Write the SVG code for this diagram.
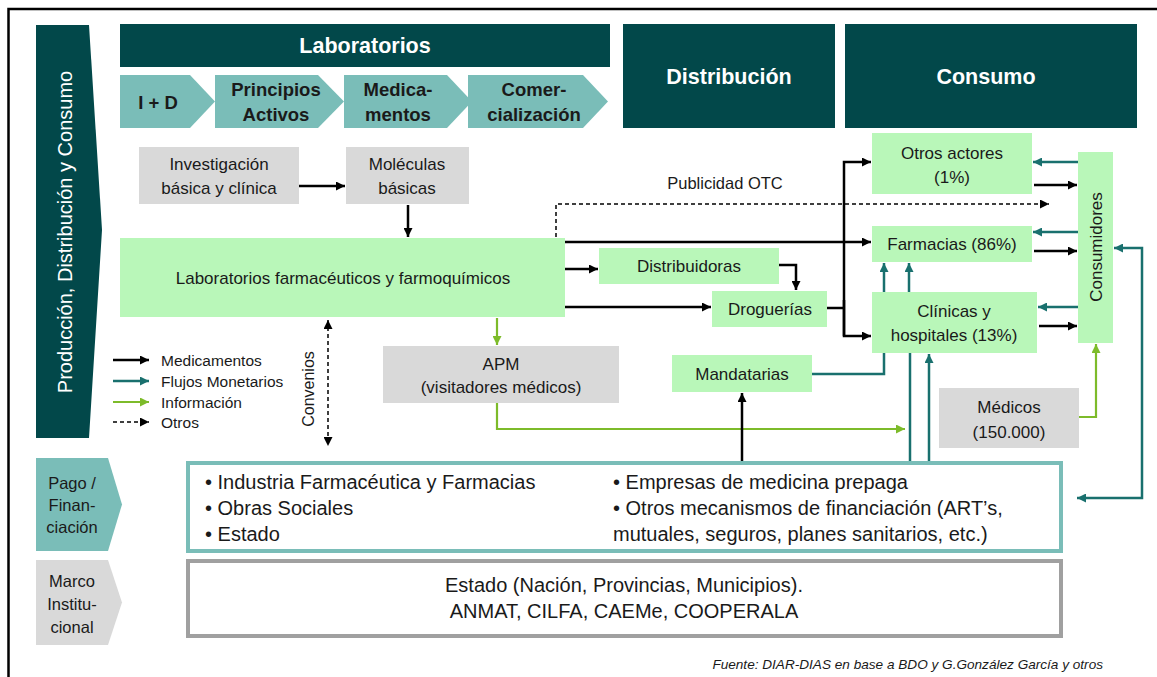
<svg xmlns="http://www.w3.org/2000/svg" width="1157" height="677" viewBox="0 0 1157 677">
<style>
text{font-family:"Liberation Sans",Arial,sans-serif;fill:#1a1a1a;dominant-baseline:central}
.hd{fill:#02484a}
.hdt{fill:#fff;font-weight:bold;font-size:21.5px;text-anchor:middle}
.chev{fill:#7abdb8}
.cht{font-weight:bold;font-size:18.5px;text-anchor:middle}
.gb{fill:#b9f7b9}
.gr{fill:#d9d9d9}
.bt{font-size:17px;text-anchor:middle}
.lg{font-size:15.5px}
.pt{font-size:20px}
.sl{font-size:16.5px;text-anchor:middle}
.blk{fill:none;stroke:#000;stroke-width:2.5}
.tl{fill:none;stroke:#19706e;stroke-width:2.5}
.gn{fill:none;stroke:#7dbb2a;stroke-width:2.2}
.ds{fill:none;stroke:#000;stroke-width:1.5;stroke-dasharray:4 3}
</style>
<defs>
<marker id="ab" viewBox="0 0 10 10" refX="10" refY="5" markerWidth="9" markerHeight="9" markerUnits="userSpaceOnUse" orient="auto-start-reverse"><path d="M0,0 L10,5 L0,10 z" fill="#000"/></marker>
<marker id="at" viewBox="0 0 10 10" refX="10" refY="5" markerWidth="9" markerHeight="9" markerUnits="userSpaceOnUse" orient="auto-start-reverse"><path d="M0,0 L10,5 L0,10 z" fill="#19706e"/></marker>
<marker id="ag" viewBox="0 0 10 10" refX="10" refY="5" markerWidth="9" markerHeight="9" markerUnits="userSpaceOnUse" orient="auto-start-reverse"><path d="M0,0 L10,5 L0,10 z" fill="#7dbb2a"/></marker>
</defs>
<rect width="1157" height="677" fill="#fff"/>
<rect x="8.5" y="9" width="1160" height="680" fill="none" stroke="#000" stroke-width="2.5"/>

<g id="banner">
<polygon class="hd" points="36,25 89,25 102,230 89,438 36,438"/>
<text transform="translate(65,232) rotate(-90)" text-anchor="middle" font-size="20" style="fill:#fff">Producción, Distribución y Consumo</text>
</g>

<g id="laboratorios-header">
<rect class="hd" x="120" y="24" width="490" height="43"/>
<text class="hdt" x="365" y="46">Laboratorios</text>
</g>
<g id="chev-id">
<polygon class="chev" points="120,75 190,75 215,101.5 190,128 120,128"/>
<text class="cht" x="158" y="102">I + D</text>
</g>
<g id="chev-principios">
<polygon class="chev" points="215,75 318,75 344,101.5 318,128 215,128"/>
<text class="cht" x="276" y="89">Principios</text>
<text class="cht" x="276" y="114">Activos</text>
</g>
<g id="chev-medicamentos">
<polygon class="chev" points="344,75 447,75 472,101.5 447,128 344,128"/>
<text class="cht" x="398" y="89">Medica-</text>
<text class="cht" x="398" y="114">mentos</text>
</g>
<g id="chev-comercializacion">
<polygon class="chev" points="468,75 583,75 608,101.5 583,128 468,128"/>
<text class="cht" x="534" y="89">Comer-</text>
<text class="cht" x="534" y="114">cialización</text>
</g>
<g id="distribucion-header">
<rect class="hd" x="623" y="24" width="212" height="104"/>
<text class="hdt" x="729" y="77">Distribución</text>
</g>
<g id="consumo-header">
<rect class="hd" x="845" y="24" width="292" height="104"/>
<text class="hdt" x="986" y="77">Consumo</text>
</g>

<g id="investigacion">
<rect class="gr" x="139" y="147" width="160" height="57"/>
<text class="bt" x="219" y="164">Investigación</text>
<text class="bt" x="219" y="188">básica y clínica</text>
</g>
<g id="moleculas">
<rect class="gr" x="346" y="147" width="123" height="57"/>
<text class="bt" x="407" y="164">Moléculas</text>
<text class="bt" x="407" y="188">básicas</text>
</g>
<g id="laboratorios">
<rect class="gb" x="120" y="238" width="445" height="79"/>
<text class="bt" x="343" y="278">Laboratorios farmacéuticos y farmoquímicos</text>
</g>
<g id="distribuidoras">
<rect class="gb" x="599" y="248" width="180" height="36"/>
<text class="bt" x="689" y="266">Distribuidoras</text>
</g>
<g id="droguerias">
<rect class="gb" x="712" y="291" width="115" height="36"/>
<text class="bt" x="770" y="309">Droguerías</text>
</g>
<g id="otros-actores">
<rect class="gb" x="872" y="133" width="160" height="61"/>
<text class="bt" x="952" y="153">Otros actores</text>
<text class="bt" x="952" y="177">(1%)</text>
</g>
<g id="farmacias">
<rect class="gb" x="872" y="226" width="160" height="36"/>
<text class="bt" x="952" y="244">Farmacias (86%)</text>
</g>
<g id="clinicas">
<rect class="gb" x="872" y="292" width="165" height="61"/>
<text class="bt" x="954" y="311">Clínicas y</text>
<text class="bt" x="954" y="335">hospitales (13%)</text>
</g>
<g id="consumidores">
<rect class="gb" x="1078" y="152" width="35" height="191"/>
<text class="bt" transform="translate(1096,247) rotate(-90)">Consumidores</text>
</g>
<g id="apm">
<rect class="gr" x="383" y="346" width="236" height="57"/>
<text class="bt" x="501" y="364">APM</text>
<text class="bt" x="501" y="387">(visitadores médicos)</text>
</g>
<g id="mandatarias">
<rect class="gb" x="672" y="355" width="140" height="37"/>
<text class="bt" x="742" y="374">Mandatarias</text>
</g>
<g id="medicos">
<rect class="gr" x="939" y="388" width="140" height="60"/>
<text class="bt" x="1009" y="407">Médicos</text>
<text class="bt" x="1009" y="432">(150.000)</text>
</g>

<g id="legend">
<path class="blk" d="M113,360 H149" marker-end="url(#ab)"/>
<text class="lg" x="161" y="360">Medicamentos</text>
<path class="tl" d="M113,381 H149" marker-end="url(#at)"/>
<text class="lg" x="161" y="381">Flujos Monetarios</text>
<path class="gn" d="M113,402 H149" marker-end="url(#ag)"/>
<text class="lg" x="161" y="402">Información</text>
<path class="ds" d="M113,422 H149" marker-end="url(#ab)"/>
<text class="lg" x="161" y="422">Otros</text>
</g>

<g id="connectors">
<path class="blk" d="M299,186 H345" marker-end="url(#ab)"/>
<path class="blk" d="M408,205 V237" marker-end="url(#ab)"/>
<path class="blk" d="M565,242 H871" marker-end="url(#ab)"/>
<path class="blk" d="M565,269 H598" marker-end="url(#ab)"/>
<path class="blk" d="M779,265 H796 V290" marker-end="url(#ab)"/>
<path class="blk" d="M565,307 H711" marker-end="url(#ab)"/>
<path class="blk" d="M827,308 H844"/>
<path class="blk" d="M844,336 V162 H871" marker-end="url(#ab)"/>
<path class="blk" d="M844,300 V336 H871" marker-end="url(#ab)"/>
<path class="ds" d="M556,237 V204 H1049" marker-end="url(#ab)"/>
<text x="725" y="183" font-size="16.5" text-anchor="middle">Publicidad OTC</text>
<path class="ds" d="M328,320 V446" marker-start="url(#ab)" marker-end="url(#ab)"/>
<text transform="translate(308,389) rotate(-90)" font-size="16" text-anchor="middle">Convenios</text>
<path class="gn" d="M497,318 V345" marker-end="url(#ag)"/>
<path class="gn" d="M497,403 V429 H905" marker-end="url(#ag)"/>
<path class="gn" d="M1079,417 H1096 V344" marker-end="url(#ag)"/>
<path class="blk" d="M742,462 V393" marker-end="url(#ab)"/>
<path class="tl" d="M812,374 H884 V353"/>
<path class="tl" d="M884,292 V263" marker-end="url(#at)"/>
<path class="tl" d="M909,292 V263" marker-end="url(#at)"/>
<path class="tl" d="M910,462 V353"/>
<path class="tl" d="M929,462 V354" marker-end="url(#at)"/>
<path class="tl" d="M1078,162 H1033" marker-end="url(#at)"/>
<path class="blk" d="M1034,185 H1077" marker-end="url(#ab)"/>
<path class="tl" d="M1078,232 H1033" marker-end="url(#at)"/>
<path class="blk" d="M1034,251 H1077" marker-end="url(#ab)"/>
<path class="tl" d="M1078,307 H1038" marker-end="url(#at)"/>
<path class="blk" d="M1039,326 H1077" marker-end="url(#ab)"/>
<path class="tl" d="M1077,498 H1142 V248 H1114" marker-start="url(#at)" marker-end="url(#at)"/>
</g>

<g id="pago-label">
<polygon class="chev" points="36,458 108,458 122,504.5 108,551 36,551"/>
<text class="sl" x="72" y="483">Pago /</text>
<text class="sl" x="72" y="505">Finan-</text>
<text class="sl" x="72" y="527">ciación</text>
</g>
<g id="pago-box">
<rect x="188" y="463" width="873" height="88" fill="#fff" stroke="#7abdb8" stroke-width="4"/>
<text class="pt" x="205" y="482">• Industria Farmacéutica y Farmacias</text>
<text class="pt" x="205" y="508">• Obras Sociales</text>
<text class="pt" x="205" y="534">• Estado</text>
<text class="pt" x="613" y="482">• Empresas de medicina prepaga</text>
<text class="pt" x="613" y="508">• Otros mecanismos de financiación (ART’s,</text>
<text class="pt" x="613" y="534">mutuales, seguros, planes sanitarios, etc.)</text>
</g>
<g id="marco-label">
<polygon class="gr" points="36,560 108,560 122,602.5 108,645 36,645"/>
<text class="sl" x="72" y="581">Marco</text>
<text class="sl" x="72" y="604">Institu-</text>
<text class="sl" x="72" y="627">cional</text>
</g>
<g id="marco-box">
<rect x="188" y="561" width="873" height="75" fill="#fff" stroke="#a0a0a0" stroke-width="4"/>
<text class="pt" x="624" y="585" text-anchor="middle">Estado (Nación, Provincias, Municipios).</text>
<text class="pt" x="624" y="611" text-anchor="middle">ANMAT, CILFA, CAEMe, COOPERALA</text>
</g>
<text x="1103" y="664" font-size="13.6" font-style="italic" text-anchor="end">Fuente: DIAR-DIAS en base a BDO y G.González García y otros</text>
</svg>
